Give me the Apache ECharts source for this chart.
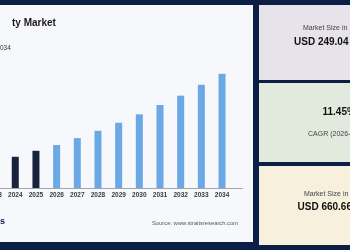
<!DOCTYPE html>
<html>
<head>
<meta charset="utf-8">
<script src="https://cdn.jsdelivr.net/npm/echarts@6/dist/echarts.min.js"></script>
<style>html,body{margin:0;padding:0;background:#0b1f46;}#c{width:350px;height:250px;}</style>
</head>
<body>
<div id="c"></div>
<script>
// Data
var years = [2023, 2024, 2025, 2026, 2027, 2028, 2029, 2030, 2031, 2032, 2033, 2034];
var values = [195, 217, 249, 280, 317, 356, 399, 444, 494, 544, 602, 661];
var historicEnd = 2025;
var titleText = 'ty Market';
var subtitleText = '034';
var footerLeft = 's';
var sourceText = 'Source: www.straitsresearch.com';
var card1Label = 'Market Size in';
var card1Value = 'USD 249.04';
var card2Value = '11.45%';
var card2Label = 'CAGR (2026-2034)';
var card3Label = 'Market Size in';
var card3Value = 'USD 660.66';

var FONT = '"Liberation Sans", Arial, sans-serif';
var chart = echarts.init(document.getElementById('c'), null, {renderer: 'canvas'});

function txt(t, x, y, size, weight, color) {
  return {type: 'text', z: 10, style: {text: t, x: x, y: y, fill: color, fontSize: size, fontWeight: weight, fontFamily: FONT, align: 'left', verticalAlign: 'middle'}};
}

chart.setOption({
  backgroundColor: '#0b1f46',
  animation: false,
  graphic: [
    {type: 'rect', z: -5, shape: {x: 0, y: 5, width: 253, height: 237}, style: {fill: '#f7f8fc'}},
    {type: 'rect', z: -5, shape: {x: 259, y: 5, width: 95, height: 75}, style: {fill: '#e6e3eb'}},
    {type: 'rect', z: -5, shape: {x: 259, y: 83, width: 95, height: 79}, style: {fill: '#e2eadd'}},
    {type: 'rect', z: -5, shape: {x: 259, y: 166, width: 95, height: 79}, style: {fill: '#f6f0dd'}},
    txt(titleText, 12, 23, 10, 'bold', '#1a1a1a'),
    txt(subtitleText, 0, 48, 6.5, 'normal', '#333333'),
    txt(footerLeft, 0, 222, 9, 'bold', '#0b1f46'),
    txt(sourceText, 152, 223, 5.8, 'normal', '#555555'),
    txt(card1Label, 303, 28.5, 7, 'normal', '#444444'),
    txt(card1Value, 294, 42.5, 10, 'bold', '#111111'),
    txt(card2Value, 322.5, 112.5, 10, 'bold', '#111111'),
    txt(card2Label, 308, 134, 7, 'normal', '#444444'),
    txt(card3Label, 304, 194, 7, 'normal', '#444444'),
    txt(card3Value, 297.5, 207.5, 10, 'bold', '#111111')
  ],
  grid: {left: -5.4, right: 107.3, top: 66.5, bottom: 62, containLabel: false, outerBoundsMode: 'none'},
  xAxis: {
    type: 'value', min: 2023, max: 2035, interval: 1,
    axisLine: {show: true, onZero: false, lineStyle: {color: '#a3a8b0', width: 1}},
    axisTick: {show: false},
    splitLine: {show: false},
    axisLabel: {show: true, showMaxLabel: false, margin: 4, color: '#3a3a3a', fontSize: 6.5, fontWeight: 'bold', fontFamily: FONT,
      formatter: function (v) { return v >= 2035 ? '' : String(v); }}
  },
  yAxis: {type: 'value', min: 50, max: 700, show: false, splitLine: {show: false}},
  series: [{
    type: 'bar',
    barWidth: 7,
    data: years.map(function (y, i) { return [y, values[i]]; }),
    itemStyle: {
      color: function (p) { return years[p.dataIndex] <= historicEnd ? '#18223d' : '#6aa9e6'; }
    }
  }]
});
</script>
</body>
</html>
